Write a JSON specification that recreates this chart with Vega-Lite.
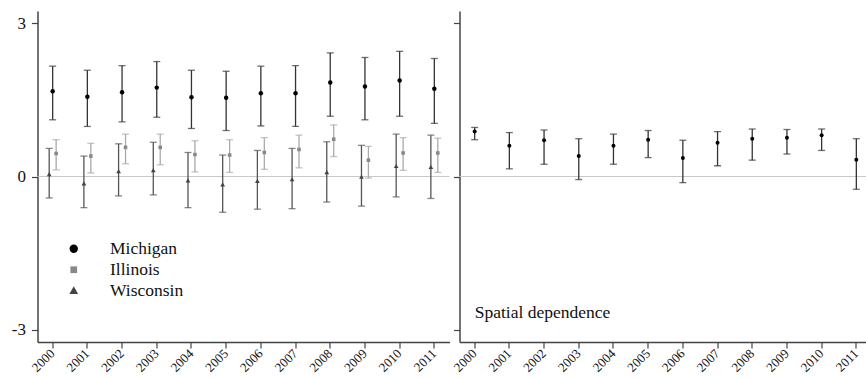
{
  "$schema": "https://vega.github.io/schema/vega-lite/v6.json",
  "background": "white",
  "padding": {"left": 10.5, "top": 11, "right": 0, "bottom": 0},
  "bounds": "flush",
  "spacing": 10,
  "resolve": {
    "scale": {"fill": "independent", "shape": "independent", "color": "independent"},
    "legend": {"fill": "independent", "shape": "independent", "color": "independent"}
  },
  "config": {
    "font": "Liberation Serif",
    "view": {"stroke": null},
    "axis": {
      "domainColor": "#444",
      "domainWidth": 1.5,
      "tickColor": "#444",
      "tickWidth": 1.2,
      "tickSize": 6,
      "labelColor": "#111",
      "labelFont": "Liberation Serif",
      "grid": false,
      "title": null
    },
    "axisX": {"labelFontSize": 13, "labelAngle": -45, "labelAlign": "right", "labelBaseline": "middle", "labelPadding": 3},
    "axisY": {"labelFontSize": 17, "labelPadding": 6}
  },
  "datasets": {
    "states": [
      {"year": "2000", "state": "Michigan", "est": 1.67, "lo": 1.11, "hi": 2.16},
      {"year": "2001", "state": "Michigan", "est": 1.56, "lo": 0.98, "hi": 2.08},
      {"year": "2002", "state": "Michigan", "est": 1.65, "lo": 1.07, "hi": 2.17},
      {"year": "2003", "state": "Michigan", "est": 1.74, "lo": 1.16, "hi": 2.25},
      {"year": "2004", "state": "Michigan", "est": 1.55, "lo": 0.94, "hi": 2.08},
      {"year": "2005", "state": "Michigan", "est": 1.54, "lo": 0.90, "hi": 2.06},
      {"year": "2006", "state": "Michigan", "est": 1.63, "lo": 0.99, "hi": 2.16},
      {"year": "2007", "state": "Michigan", "est": 1.63, "lo": 0.98, "hi": 2.17},
      {"year": "2008", "state": "Michigan", "est": 1.84, "lo": 1.18, "hi": 2.42},
      {"year": "2009", "state": "Michigan", "est": 1.76, "lo": 1.11, "hi": 2.33},
      {"year": "2010", "state": "Michigan", "est": 1.88, "lo": 1.18, "hi": 2.45},
      {"year": "2011", "state": "Michigan", "est": 1.72, "lo": 1.04, "hi": 2.31},
      {"year": "2000", "state": "Illinois", "est": 0.45, "lo": 0.13, "hi": 0.72},
      {"year": "2001", "state": "Illinois", "est": 0.40, "lo": 0.07, "hi": 0.65},
      {"year": "2002", "state": "Illinois", "est": 0.57, "lo": 0.25, "hi": 0.83},
      {"year": "2003", "state": "Illinois", "est": 0.57, "lo": 0.23, "hi": 0.83},
      {"year": "2004", "state": "Illinois", "est": 0.43, "lo": 0.09, "hi": 0.70},
      {"year": "2005", "state": "Illinois", "est": 0.42, "lo": 0.08, "hi": 0.72},
      {"year": "2006", "state": "Illinois", "est": 0.47, "lo": 0.14, "hi": 0.76},
      {"year": "2007", "state": "Illinois", "est": 0.53, "lo": 0.17, "hi": 0.81},
      {"year": "2008", "state": "Illinois", "est": 0.73, "lo": 0.39, "hi": 1.01},
      {"year": "2009", "state": "Illinois", "est": 0.32, "lo": -0.03, "hi": 0.59},
      {"year": "2010", "state": "Illinois", "est": 0.46, "lo": 0.12, "hi": 0.76},
      {"year": "2011", "state": "Illinois", "est": 0.46, "lo": 0.08, "hi": 0.75},
      {"year": "2000", "state": "Wisconsin", "est": 0.04, "lo": -0.42, "hi": 0.55},
      {"year": "2001", "state": "Wisconsin", "est": -0.14, "lo": -0.61, "hi": 0.40},
      {"year": "2002", "state": "Wisconsin", "est": 0.10, "lo": -0.38, "hi": 0.64},
      {"year": "2003", "state": "Wisconsin", "est": 0.12, "lo": -0.36, "hi": 0.67},
      {"year": "2004", "state": "Wisconsin", "est": -0.08, "lo": -0.61, "hi": 0.47},
      {"year": "2005", "state": "Wisconsin", "est": -0.16, "lo": -0.70, "hi": 0.42},
      {"year": "2006", "state": "Wisconsin", "est": -0.09, "lo": -0.64, "hi": 0.51},
      {"year": "2007", "state": "Wisconsin", "est": -0.06, "lo": -0.63, "hi": 0.55},
      {"year": "2008", "state": "Wisconsin", "est": 0.08, "lo": -0.50, "hi": 0.68},
      {"year": "2009", "state": "Wisconsin", "est": -0.01, "lo": -0.58, "hi": 0.61},
      {"year": "2010", "state": "Wisconsin", "est": 0.20, "lo": -0.40, "hi": 0.83},
      {"year": "2011", "state": "Wisconsin", "est": 0.18, "lo": -0.43, "hi": 0.81}
    ],
    "spatial": [
      {"year": "2000", "est": 0.88, "lo": 0.72, "hi": 0.96},
      {"year": "2001", "est": 0.60, "lo": 0.15, "hi": 0.86},
      {"year": "2002", "est": 0.71, "lo": 0.24, "hi": 0.91},
      {"year": "2003", "est": 0.40, "lo": -0.06, "hi": 0.74},
      {"year": "2004", "est": 0.60, "lo": 0.24, "hi": 0.83},
      {"year": "2005", "est": 0.72, "lo": 0.37, "hi": 0.90},
      {"year": "2006", "est": 0.36, "lo": -0.12, "hi": 0.71},
      {"year": "2007", "est": 0.66, "lo": 0.21, "hi": 0.88},
      {"year": "2008", "est": 0.74, "lo": 0.32, "hi": 0.93},
      {"year": "2009", "est": 0.76, "lo": 0.44, "hi": 0.92},
      {"year": "2010", "est": 0.81, "lo": 0.51, "hi": 0.93},
      {"year": "2011", "est": 0.33, "lo": -0.25, "hi": 0.74}
    ]
  },
  "hconcat": [
    {
      "width": 412,
      "height": 331,
      "layer": [
        {
          "data": {"values": [{"ref": 0}]},
          "mark": {"type": "rule", "color": "#c8c8c8", "strokeWidth": 1},
          "encoding": {
            "y": {"field": "ref", "type": "quantitative", "scale": {"domain": [-3.24, 3.24], "nice": false, "zero": false}, "axis": {"values": [-3, 0, 3], "labelExpr": "datum.value"}}
          }
        },
        {
          "data": {"name": "states"},
          "mark": {"type": "rule", "strokeWidth": 1.3},
          "encoding": {
            "x": {"field": "year", "type": "nominal", "scale": {"type": "band", "paddingInner": 0.8, "paddingOuter": 0.337}},
            "xOffset": {"field": "state", "type": "nominal", "scale": {"type": "point", "domain": ["Wisconsin", "Michigan", "Illinois"], "padding": 0}},
            "y": {"field": "lo", "type": "quantitative", "scale": {"domain": [-3.24, 3.24], "nice": false, "zero": false}},
            "y2": {"field": "hi"},
            "color": {"field": "state", "type": "nominal", "scale": {"domain": ["Wisconsin", "Illinois", "Michigan"], "range": ["#555555", "#aaaaaa", "#333333"]}, "legend": null}
          }
        },
        {
          "data": {"name": "states"},
          "mark": {"type": "tick", "orient": "horizontal", "size": 7, "thickness": 1.3},
          "encoding": {
            "x": {"field": "year", "type": "nominal"},
            "xOffset": {"field": "state", "type": "nominal"},
            "y": {"field": "hi", "type": "quantitative"},
            "color": {"field": "state", "type": "nominal", "legend": null}
          }
        },
        {
          "data": {"name": "states"},
          "mark": {"type": "tick", "orient": "horizontal", "size": 7, "thickness": 1.3},
          "encoding": {
            "x": {"field": "year", "type": "nominal"},
            "xOffset": {"field": "state", "type": "nominal"},
            "y": {"field": "lo", "type": "quantitative"},
            "color": {"field": "state", "type": "nominal", "legend": null}
          }
        },
        {
          "data": {"name": "states"},
          "mark": {"type": "point", "filled": true, "size": 20, "strokeWidth": 0, "opacity": 1},
          "encoding": {
            "x": {"field": "year", "type": "nominal"},
            "xOffset": {"field": "state", "type": "nominal"},
            "y": {"field": "est", "type": "quantitative"},
            "fill": {"field": "state", "type": "nominal", "scale": {"domain": ["Michigan", "Illinois", "Wisconsin"], "range": ["#000000", "#888888", "#444444"]},
              "legend": {"orient": "none", "legendX": 27.5, "legendY": 229, "title": null, "labelFontSize": 17.5, "labelFont": "Liberation Serif", "labelColor": "#111", "symbolSize": 70, "labelOffset": 27.5, "rowPadding": 2, "padding": 0, "symbolStrokeWidth": 0, "symbolOpacity": 1}},
            "shape": {"field": "state", "type": "nominal", "scale": {"domain": ["Michigan", "Illinois", "Wisconsin"], "range": ["circle", "M-0.8,-0.8H0.8V0.8H-0.8Z", "M0,-1.05L1.05,0.8L-1.05,0.8Z"]},
              "legend": {"orient": "none", "legendX": 27.5, "legendY": 229, "title": null, "labelFontSize": 17.5, "labelFont": "Liberation Serif", "labelColor": "#111", "symbolSize": 70, "labelOffset": 27.5, "rowPadding": 2, "padding": 0, "symbolStrokeWidth": 0, "symbolOpacity": 1}}
          }
        }
      ]
    },
    {
      "width": 412,
      "height": 331,
      "layer": [
        {
          "data": {"values": [{"ref": 0}]},
          "mark": {"type": "rule", "color": "#c8c8c8", "strokeWidth": 1},
          "encoding": {
            "y": {"field": "ref", "type": "quantitative", "scale": {"domain": [-3.24, 3.24], "nice": false, "zero": false}, "axis": {"values": [-3, 0, 3], "labels": false}}
          }
        },
        {
          "data": {"name": "spatial"},
          "mark": {"type": "rule", "strokeWidth": 1.3, "color": "#333333"},
          "encoding": {
            "x": {"field": "year", "type": "nominal", "scale": {"type": "band", "paddingInner": 0.8, "paddingOuter": 0.337}},
            "y": {"field": "lo", "type": "quantitative", "scale": {"domain": [-3.24, 3.24], "nice": false, "zero": false}},
            "y2": {"field": "hi"}
          }
        },
        {
          "data": {"name": "spatial"},
          "mark": {"type": "tick", "orient": "horizontal", "size": 7, "thickness": 1.3, "color": "#333333"},
          "encoding": {
            "x": {"field": "year", "type": "nominal"},
            "y": {"field": "hi", "type": "quantitative"}
          }
        },
        {
          "data": {"name": "spatial"},
          "mark": {"type": "tick", "orient": "horizontal", "size": 7, "thickness": 1.3, "color": "#333333"},
          "encoding": {
            "x": {"field": "year", "type": "nominal"},
            "y": {"field": "lo", "type": "quantitative"}
          }
        },
        {
          "data": {"name": "spatial"},
          "mark": {"type": "point", "filled": true, "size": 16, "strokeWidth": 0, "color": "#000000", "opacity": 1},
          "encoding": {
            "x": {"field": "year", "type": "nominal"},
            "y": {"field": "est", "type": "quantitative"}
          }
        },
        {
          "data": {"values": [{"label": "Spatial dependence"}]},
          "mark": {"type": "text", "align": "left", "baseline": "alphabetic", "fontSize": 17.5, "font": "Liberation Serif", "color": "#111"},
          "encoding": {
            "x": {"datum": "2000", "type": "nominal"},
            "y": {"datum": -2.77, "type": "quantitative"},
            "text": {"field": "label"}
          }
        }
      ]
    }
  ]
}
